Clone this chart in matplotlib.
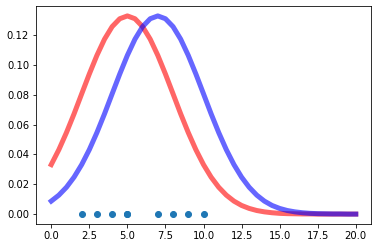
import numpy as np
import matplotlib
matplotlib.use("Agg")
import matplotlib.pyplot as plt

x_vals = [i * 0.5 for i in range(41)]
red_pdf = [0.0332, 0.0432, 0.0547, 0.0673, 0.0807, 0.0940, 0.1065, 0.1174, 0.1258, 0.1311,
           0.1330, 0.1311, 0.1258, 0.1174, 0.1065, 0.0940, 0.0807, 0.0673, 0.0547, 0.0432,
           0.0332, 0.0248, 0.0180, 0.0127, 0.0087, 0.0058, 0.0038, 0.0024, 0.0015, 0.0009,
           0.0005, 0.0003, 0.0002, 0.0001, 0.0001, 0.0, 0.0, 0.0, 0.0, 0.0, 0.0]
blue_pdf = [0.0087, 0.0127, 0.0180, 0.0248, 0.0332, 0.0432, 0.0547, 0.0673, 0.0807, 0.0940,
            0.1065, 0.1174, 0.1258, 0.1311, 0.1330, 0.1311, 0.1258, 0.1174, 0.1065, 0.0940,
            0.0807, 0.0673, 0.0547, 0.0432, 0.0332, 0.0248, 0.0180, 0.0127, 0.0087, 0.0058,
            0.0038, 0.0024, 0.0015, 0.0009, 0.0005, 0.0003, 0.0002, 0.0001, 0.0001, 0.0, 0.0]
points_x = [2, 3, 4, 5, 5, 7, 8, 9, 10]
points_y = [0, 0, 0, 0, 0, 0, 0, 0, 0]

fig = plt.figure(figsize=(378 / 72, 248 / 72), dpi=72)
ax = fig.add_axes([36 / 378, 1 - 224 / 248, (371 - 36) / 378, (224 - 6) / 248])
ax.plot(x_vals, red_pdf, color='r', alpha=0.6, lw=5)
ax.plot(x_vals, blue_pdf, color='b', alpha=0.6, lw=5)
ax.scatter(points_x, points_y, color='#1f77b4', s=36, zorder=3)
ax.tick_params(labelsize=10)
fig.savefig("out.png", dpi=72)
